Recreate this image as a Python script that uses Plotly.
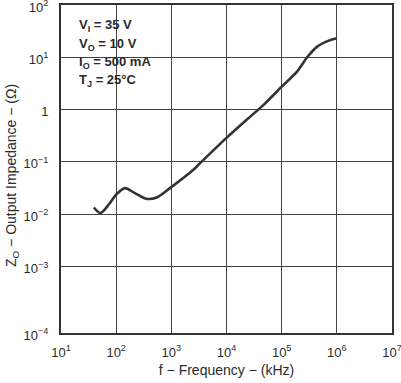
import plotly.graph_objects as go

freq_khz = [39.4, 52, 76.8, 98.8, 144, 219, 357, 543, 946, 2512, 3327, 9886,
            27000, 47100, 101000, 190000, 290000, 440000, 716000, 1000000]
impedance = [0.0134, 0.0105, 0.01626, 0.0234, 0.0315, 0.0252, 0.0196, 0.0208,
             0.0315, 0.0705, 0.0944, 0.284, 0.734, 1.23, 2.77, 5.32, 10.0, 16.0,
             20.8, 23.1]

x_tickvals = [1e1, 1e2, 1e3, 1e4, 1e5, 1e6, 1e7]
x_ticktext = ["10<sup>1</sup>", "10<sup>2</sup>", "10<sup>3</sup>", "10<sup>4</sup>",
              "10<sup>5</sup>", "10<sup>6</sup>", "10<sup>7</sup>"]
y_bottom_exp = -4.273
y_tickvals = [10 ** y_bottom_exp, 1e-3, 1e-2, 1e-1, 1, 1e1, 1e2]
y_ticktext = ["10<sup>−4</sup>", "10<sup>−3</sup>", "10<sup>−2</sup>", "10<sup>−1</sup>",
              "1", "10<sup>1</sup>", "10<sup>2</sup>"]

font_family = "Liberation Sans, Arial, sans-serif"
ink = "#2b2b2b"

fig = go.Figure()
fig.add_trace(go.Scatter(
    x=freq_khz, y=impedance, mode="lines",
    line=dict(color="#333333", width=2.6, shape="spline", smoothing=0.8),
    showlegend=False, hoverinfo="skip"))

fig.update_layout(
    width=401, height=383,
    margin=dict(l=61, r=9, t=5, b=50),
    paper_bgcolor="white", plot_bgcolor="white",
    font=dict(family=font_family, size=13, color=ink),
    xaxis=dict(type="log", range=[1, 7], tickvals=x_tickvals, ticktext=x_ticktext,
               showgrid=True, gridcolor="#444444", gridwidth=1,
               showline=True, mirror=True, linecolor="#333333", linewidth=2,
               ticks="", ticklabelstandoff=6, zeroline=False,
               automargin=False, ticklabeloverflow="allow",
               title=dict(text="f − Frequency − (kHz)", standoff=7,
                          font=dict(size=14, color=ink))),
    yaxis=dict(type="log", range=[y_bottom_exp, 2], tickvals=y_tickvals, ticktext=y_ticktext,
               showgrid=True, gridcolor="#444444", gridwidth=1,
               showline=True, mirror=True, linecolor="#333333", linewidth=2,
               ticks="", ticklabelstandoff=8, ticklabelshift=2, zeroline=False,
               automargin=False, ticklabeloverflow="allow"),
)

fig.add_annotation(
    x=(12 - 61) / 331, y=1 - (176 - 5) / 328, xref="paper", yref="paper",
    xanchor="center", yanchor="middle", textangle=-90, showarrow=False,
    text="Z<sub>O</sub> − Output Impedance − (Ω)",
    font=dict(size=14, color=ink, family=font_family))

info_lines = ["<b>V<sub>I</sub> = 35 V</b>", "<b>V<sub>O</sub> = 10 V</b>",
              "<b>I<sub>O</sub> = 500 mA</b>", "<b>T<sub>J</sub> = 25°C</b>"]
for i, line in enumerate(info_lines):
    fig.add_annotation(
        x=0.048, y=1 - (21 + 18 * i) / 328, xref="paper", yref="paper",
        xanchor="left", yanchor="middle", align="left", showarrow=False,
        text=line, font=dict(size=13, color=ink, family=font_family))

fig.write_html("out.html", config={"displayModeBar": False},
               post_script="document.body.style.margin='0px';document.body.style.overflow='hidden';")
